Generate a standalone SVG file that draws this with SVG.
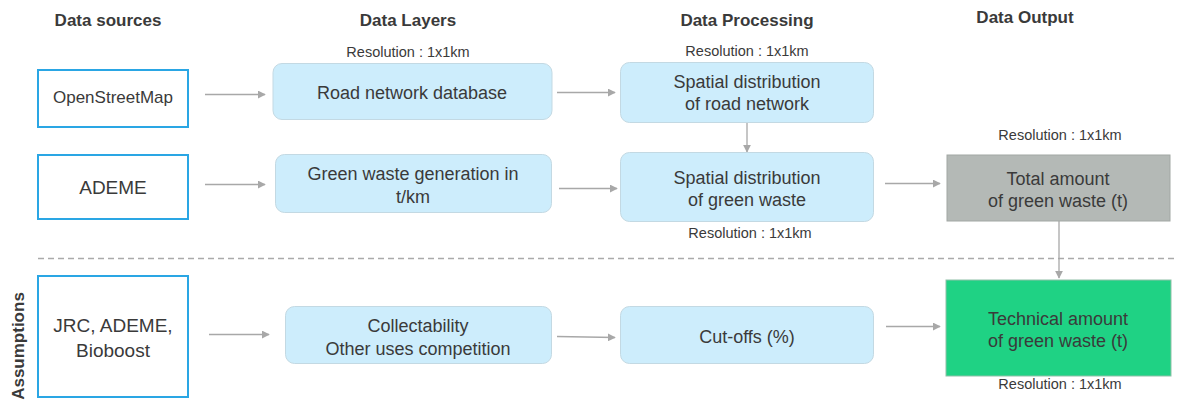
<svg xmlns="http://www.w3.org/2000/svg" width="1177" height="404" viewBox="0 0 1177 404">
<style>
text{font-family:"Liberation Sans",Arial,sans-serif;fill:#3a3a3a;text-anchor:middle}
.h{font-size:17px;font-weight:bold}
.res{font-size:14.5px}
.t{font-size:18px}
.src{fill:#fff;stroke:#2aa6e4;stroke-width:2}
.lay{fill:#cdedfc;stroke:#c3d9e3;stroke-width:1}
.con line{stroke:#a8a8a8;stroke-width:1.3;marker-end:url(#ah)}
</style>
<defs>
<marker id="ah" viewBox="0 0 10 10" refX="9" refY="5" markerWidth="8" markerHeight="8" markerUnits="userSpaceOnUse" orient="auto">
<path d="M0,0 L10,5 L0,10 z" fill="#a8a8a8"/>
</marker>
</defs>
<rect width="1177" height="404" fill="#fff"/>
<g id="headers">
<text class="h" x="108" y="26">Data sources</text>
<text class="h" x="408" y="26">Data Layers</text>
<text class="h" x="747" y="26">Data Processing</text>
<text class="h" x="1025" y="23">Data Output</text>
<text class="h" transform="translate(24,346) rotate(-90)">Assumptions</text>
</g>
<line x1="38" y1="258.5" x2="1177" y2="258.5" stroke="#aaaaaa" stroke-width="1.5" stroke-dasharray="6,4"/>
<g class="con" id="connectors">
<line x1="205" y1="94.5" x2="265" y2="94.5"/>
<line x1="557" y1="92.5" x2="615" y2="92.5"/>
<line x1="747" y1="122" x2="747" y2="152"/>
<line x1="205" y1="184.5" x2="265" y2="184.5"/>
<line x1="559" y1="188.5" x2="617" y2="188.5"/>
<line x1="885" y1="183.5" x2="940" y2="183.5"/>
<line x1="1059" y1="221" x2="1059" y2="278"/>
<line x1="209" y1="334.5" x2="269" y2="334.5"/>
<line x1="557" y1="336.5" x2="615" y2="337.5"/>
<line x1="886" y1="326.5" x2="940" y2="326.5"/>
</g>
<g id="osm"><rect class="src" x="38" y="70" width="150" height="57"/><text class="t" x="113" y="103" style="font-size:17px">OpenStreetMap</text></g>
<g id="ademe"><rect class="src" x="38" y="155" width="150" height="64"/><text class="t" x="113" y="194" style="font-size:19px">ADEME</text></g>
<g id="jrc"><rect class="src" x="38" y="276" width="150" height="121"/><text class="t" x="113" y="332" style="font-size:19px">JRC, ADEME,</text><text class="t" x="113" y="357" style="font-size:19px">Bioboost</text></g>
<g id="road-db"><text class="res" x="408" y="57">Resolution : 1x1km</text><rect class="lay" x="273" y="63.5" width="279" height="56" rx="9"/><text class="t" x="412" y="99">Road network database</text></g>
<g id="green-gen"><rect class="lay" x="275.5" y="154.5" width="276" height="58" rx="9"/><text class="t" x="413" y="180">Green waste generation in</text><text class="t" x="413" y="203">t/km</text></g>
<g id="collect"><rect class="lay" x="285.5" y="306.5" width="266" height="57" rx="9"/><text class="t" x="418" y="332">Collectability</text><text class="t" x="418" y="355">Other uses competition</text></g>
<g id="spatial-road"><text class="res" x="747" y="56">Resolution : 1x1km</text><rect class="lay" x="620.5" y="62.5" width="253" height="60" rx="9"/><text class="t" x="747" y="88">Spatial distribution</text><text class="t" x="747" y="110">of road network</text></g>
<g id="spatial-green"><rect class="lay" x="620.5" y="152.5" width="253" height="69" rx="9"/><text class="t" x="747" y="184">Spatial distribution</text><text class="t" x="747" y="206">of green waste</text><text class="res" x="750" y="238">Resolution : 1x1km</text></g>
<g id="cutoffs"><rect class="lay" x="620.5" y="306.5" width="253" height="57" rx="9"/><text class="t" x="747" y="343">Cut-offs (%)</text></g>
<g id="total"><text class="res" x="1060" y="140">Resolution : 1x1km</text><rect x="947" y="155" width="223" height="66" fill="#b4b9b6" stroke="#a2a7a4" stroke-width="1"/><text class="t" x="1058" y="185">Total amount</text><text class="t" x="1058" y="207">of green waste (t)</text></g>
<g id="technical"><rect x="946" y="280" width="225" height="96" fill="#1fd284" stroke="#8fc0a8" stroke-width="1"/><text class="t" x="1058" y="325">Technical amount</text><text class="t" x="1058" y="347">of green waste (t)</text><text class="res" x="1060" y="389">Resolution : 1x1km</text></g>
</svg>
